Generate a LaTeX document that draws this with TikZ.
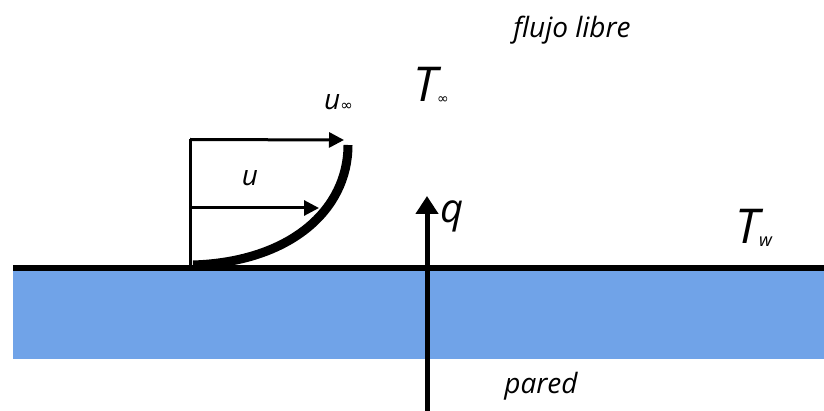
\documentclass[tikz,border=0pt]{standalone}
\usepackage{fontspec}
\setmainfont{Open Sans}
\newfontfamily\symfont{DejaVu Sans}
\usetikzlibrary{arrows.meta}
\definecolor{wallblue}{RGB}{112,163,232}
\tikzset{
  lbl/.style={inner sep=0pt, font=\itshape},
  thinarrow/.style={line width=3pt, -{Triangle[length=15pt,width=15pt]}},
  qarrow/.style={line width=5pt, -{Triangle[length=18pt,width=22pt]}}
}
\begin{document}
\begin{tikzpicture}[x=1pt,y=-1pt]
\useasboundingbox (0,0) rectangle (824,411);
% wall
\fill[wallblue] (13,270) rectangle (824,359);
\coordinate (wl) at (13,268);
\coordinate (wr) at (824,268);
\draw[line width=6pt] (wl) -- (wr);
% profile
\coordinate (p0) at (190,266);
\coordinate (p1) at (190,139.5);
\coordinate (a1) at (344,140);
\coordinate (p2) at (190,208);
\coordinate (a2) at (319,208);
\draw[line width=3pt] (p0) -- (p1);
\draw[thinarrow] (p1) -- (a1);
\draw[thinarrow] (p2) -- (a2);
\coordinate (c0) at (193,265);
\coordinate (c1) at (348,145);
\draw[line width=9pt] (c0) .. controls (290,262) and (348,210) .. (c1);
% q arrow
\coordinate (qb) at (427,411);
\coordinate (qt) at (427,196);
\draw[qarrow] (qb) -- (qt);
% labels
\node[lbl, font=\itshape\fontsize{40}{40}\selectfont, anchor=base west] (q) at (440,223) {q};
\node[lbl, font=\fontsize{28}{28}\selectfont\itshape, anchor=base] (u) at (250,186) {u};
\node[lbl, font=\fontsize{28}{28}\selectfont\itshape, anchor=base west] (uinf) at (324,110) {u\raisebox{-1pt}{\symfont\fontsize{15}{15}\selectfont ∞}};
\node[lbl, font=\fontsize{48}{48}\selectfont\itshape, anchor=base west] (Tinf) at (413,102) {T\raisebox{-2pt}{\symfont\fontsize{14}{14}\selectfont ∞}};
\node[lbl, font=\fontsize{48}{48}\selectfont\itshape, anchor=base west] (Tw) at (735,244) {T\raisebox{-3pt}{\fontsize{18}{18}\selectfont w}};
\node[lbl, font=\fontsize{28}{28}\selectfont\itshape] (fl) at (572,30) {flujo libre};
\node[lbl, font=\fontsize{28}{28}\selectfont\itshape] (pa) at (541,386) {pared};
\end{tikzpicture}
\end{document}
